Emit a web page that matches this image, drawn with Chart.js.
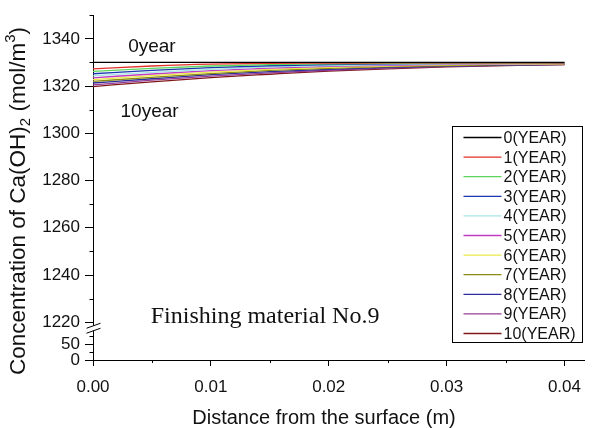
<!DOCTYPE html>
<html>
<head>
<meta charset="utf-8">
<script src="https://cdn.jsdelivr.net/npm/chart.js@4.4.1/dist/chart.umd.min.js"></script>
<style>
  html, body { margin: 0; padding: 0; background: #fff; }
</style>
</head>
<body>
<canvas id="chart" width="592" height="428"></canvas>
<script>
// distance from the surface (m)
const distance = [0, 0.005, 0.01, 0.015, 0.02, 0.025, 0.03, 0.035, 0.04];

const seriesNames = ['0(YEAR)', '1(YEAR)', '2(YEAR)', '3(YEAR)', '4(YEAR)', '5(YEAR)',
                     '6(YEAR)', '7(YEAR)', '8(YEAR)', '9(YEAR)', '10(YEAR)'];

// Ca(OH)2 concentration (mol/m3)
const year0  = [1330.0, 1330.0, 1330.0, 1330.0, 1330.0, 1330.0, 1330.0, 1330.0, 1330.0];
const year1  = [1327.3, 1328.5, 1329.3, 1329.6, 1329.7, 1329.8, 1329.8, 1329.8, 1329.8];
const year2  = [1326.2, 1327.5, 1328.5, 1329.1, 1329.4, 1329.6, 1329.7, 1329.7, 1329.8];
const year3  = [1325.2, 1326.6, 1327.8, 1328.6, 1329.1, 1329.4, 1329.6, 1329.7, 1329.7];
const year4  = [1324.3, 1325.8, 1327.1, 1328.1, 1328.7, 1329.1, 1329.4, 1329.5, 1329.6];
const year5  = [1323.5, 1325.1, 1326.5, 1327.6, 1328.3, 1328.8, 1329.2, 1329.4, 1329.5];
const year6  = [1322.7, 1324.4, 1325.9, 1327.1, 1327.9, 1328.5, 1329.0, 1329.2, 1329.4];
const year7  = [1322.0, 1323.7, 1325.3, 1326.6, 1327.5, 1328.2, 1328.7, 1329.1, 1329.3];
const year8  = [1321.3, 1323.1, 1324.8, 1326.1, 1327.1, 1327.9, 1328.5, 1328.9, 1329.2];
const year9  = [1320.5, 1322.5, 1324.2, 1325.6, 1326.7, 1327.6, 1328.3, 1328.8, 1329.1];
const year10 = [1319.8, 1321.8, 1323.6, 1325.0, 1326.3, 1327.3, 1328.1, 1328.7, 1329.1];

// tick values
const xTicks = [0, 0.005, 0.01, 0.015, 0.02, 0.025, 0.03, 0.035, 0.04];
const yTicks = [1220, 1230, 1240, 1250, 1260, 1270, 1280, 1290, 1300, 1310, 1320, 1330, 1340, 1350];
const yLowTicks = [0, 25, 50, 75, 100];
const yLowLabels = [0, 50];

const colors = ['#000000', '#e2302a', '#5cd65c', '#1a36b0', '#a6e6e6', '#c23cc2',
                '#ece84a', '#8c8c12', '#2e2e9c', '#963c96', '#801818'];

const allYears = [year0, year1, year2, year3, year4, year5, year6, year7, year8, year9, year10];

const FONT = "'Liberation Sans', Arial, sans-serif";

const datasets = allYears.map((vals, i) => ({
    label: seriesNames[i],
    data: vals.map((v, j) => ({ x: distance[j], y: v })),
    borderColor: colors[i],
    borderWidth: 1.3,
    pointRadius: 0,
    cubicInterpolationMode: 'monotone',
    yAxisID: 'y'
}));

function isMajorX(v) { return Math.round(v * 1000) % 10 === 0; }

// minor ticks, axis break, labels, legend and the y title
const decor = {
    id: 'decor',
    afterDraw(chart) {
        const ctx = chart.ctx;
        const xs = chart.scales.x, ys = chart.scales.y, yl = chart.scales.yLow;
        const axX = Math.round(ys.right) + 0.5;
        ctx.save();
        ctx.strokeStyle = '#000';
        ctx.lineWidth = 1;

        // minor ticks
        ctx.beginPath();
        yTicks.forEach(v => {
            if (v % 20 !== 0) {
                const p = Math.round(ys.getPixelForValue(v)) + 0.5;
                ctx.moveTo(axX - 4, p); ctx.lineTo(axX, p);
            }
        });
        yLowTicks.forEach(v => {
            if (!yLowLabels.includes(v)) {
                const p = Math.round(yl.getPixelForValue(v)) + 0.5;
                ctx.moveTo(axX - 4, p); ctx.lineTo(axX, p);
            }
        });
        xTicks.forEach(v => {
            if (!isMajorX(v)) {
                const p = Math.round(xs.getPixelForValue(v)) + 0.5;
                ctx.moveTo(p, xs.top); ctx.lineTo(p, xs.top + 3);
            }
        });
        ctx.stroke();

        // axis break marks
        const by = ys.bottom + 4;
        ctx.fillStyle = '#fff';
        ctx.beginPath();
        ctx.moveTo(axX - 7, by + 2); ctx.lineTo(axX + 7, by - 3);
        ctx.lineTo(axX + 7, by + 2); ctx.lineTo(axX - 7, by + 7);
        ctx.closePath();
        ctx.fill();
        ctx.beginPath();
        ctx.moveTo(axX - 7, by + 2); ctx.lineTo(axX + 7, by - 3);
        ctx.moveTo(axX - 7, by + 7); ctx.lineTo(axX + 7, by + 2);
        ctx.stroke();

        // labels inside the plot
        ctx.fillStyle = '#111';
        ctx.textBaseline = 'middle';
        ctx.textAlign = 'center';
        ctx.font = '19px ' + FONT;
        ctx.fillText('0year', xs.getPixelForValue(0.005), ys.getPixelForValue(1336.8));
        ctx.fillText('10year', xs.getPixelForValue(0.0048), ys.getPixelForValue(1309.0));
        ctx.textAlign = 'left';
        ctx.font = "24px 'Liberation Serif', 'Times New Roman', serif";
        ctx.fillText('Finishing material No.9', xs.getPixelForValue(0.0049), ys.getPixelForValue(1222.2));

        // legend
        const lx = 452.5, ly = 126.5, lw = 130, lh = 216;
        ctx.strokeRect(lx, ly, lw, lh);
        ctx.font = '16px ' + FONT;
        chart.data.datasets.forEach((ds, i) => {
            const cy = ly + 11 + i * 19.6;
            ctx.strokeStyle = ds.borderColor;
            ctx.lineWidth = 1.3;
            ctx.beginPath();
            ctx.moveTo(lx + 11, cy); ctx.lineTo(lx + 49, cy);
            ctx.stroke();
            ctx.fillText(ds.label, lx + 51, cy + 1);
        });

        // x title
        ctx.textAlign = 'center';
        ctx.textBaseline = 'alphabetic';
        ctx.font = '20px ' + FONT;
        ctx.fillText('Distance from the surface (m)', 324, 424);

        // y title with subscript and superscript
        const parts = [
            ['Concentration of Ca(OH)', 22.5, 0],
            ['2', 15, 5],
            [' (mol/m', 22.5, 0],
            ['3', 15, -10],
            [')', 22.5, 0]
        ];
        let total = 0;
        parts.forEach(p => { ctx.font = p[1] + 'px ' + FONT; total += ctx.measureText(p[0]).width; });
        ctx.translate(25, 201);
        ctx.rotate(-Math.PI / 2);
        ctx.textAlign = 'left';
        let px = -total / 2;
        parts.forEach(p => {
            ctx.font = p[1] + 'px ' + FONT;
            ctx.fillText(p[0], px, p[2]);
            px += ctx.measureText(p[0]).width;
        });
        ctx.restore();
    }
};

new Chart(document.getElementById('chart'), {
    type: 'line',
    data: { datasets: datasets },
    options: {
        responsive: false,
        animation: false,
        layout: { padding: { top: 12, right: 0, left: 0, bottom: 0 } },
        plugins: { legend: { display: false }, tooltip: { enabled: false } },
        scales: {
            x: {
                type: 'linear',
                min: 0,
                max: 0.0417,
                afterBuildTicks: s => { s.ticks = xTicks.map(v => ({ value: v })); },
                afterFit: s => { s.height = 68; },
                grid: {
                    drawOnChartArea: false,
                    tickLength: 6,
                    tickColor: c => (c.tick && isMajorX(c.tick.value)) ? '#000' : 'rgba(0,0,0,0)'
                },
                border: { color: '#000', width: 1 },
                ticks: {
                    color: '#111',
                    font: { family: FONT, size: 17 },
                    padding: 11,
                    maxRotation: 0,
                    autoSkip: false,
                    callback: v => isMajorX(v) ? v.toFixed(2) : ''
                }
            },
            yLow: {
                type: 'linear',
                position: 'left',
                stack: 'conc',
                stackWeight: 38,
                min: 0,
                max: 118,
                afterBuildTicks: s => { s.ticks = yLowTicks.map(v => ({ value: v })); },
                afterFit: s => { s.width = 93; },
                grid: {
                    drawOnChartArea: false,
                    tickLength: 8,
                    tickColor: c => (c.tick && yLowLabels.includes(c.tick.value)) ? '#000' : 'rgba(0,0,0,0)'
                },
                border: { color: '#000', width: 1 },
                ticks: {
                    color: '#111',
                    font: { family: FONT, size: 17 },
                    padding: 5,
                    autoSkip: false,
                    callback: v => yLowLabels.includes(v) ? String(v) : ''
                }
            },
            y: {
                type: 'linear',
                position: 'left',
                stack: 'conc',
                stackWeight: 309,
                min: 1220,
                max: 1350,
                afterBuildTicks: s => { s.ticks = yTicks.map(v => ({ value: v })); },
                afterFit: s => { s.width = 93; },
                grid: {
                    drawOnChartArea: false,
                    tickLength: 8,
                    tickColor: c => (c.tick && c.tick.value % 20 === 0) ? '#000' : 'rgba(0,0,0,0)'
                },
                border: { color: '#000', width: 1 },
                ticks: {
                    color: '#111',
                    font: { family: FONT, size: 17 },
                    padding: 5,
                    autoSkip: false,
                    callback: v => v % 20 === 0 ? String(v) : ''
                }
            }
        }
    },
    plugins: [decor]
});
</script>
</body>
</html>
